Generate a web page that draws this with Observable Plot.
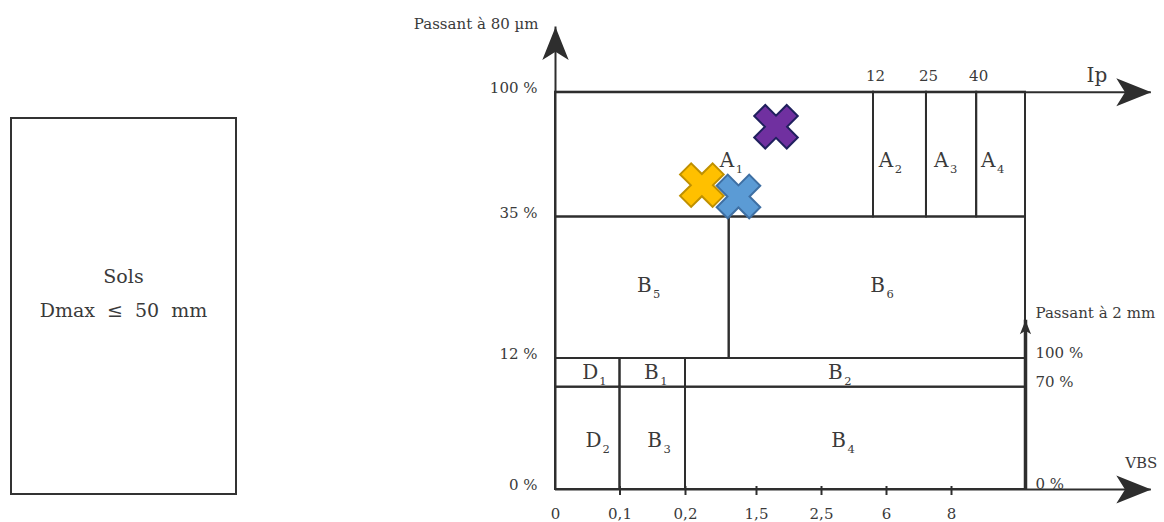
<!DOCTYPE html>
<html>
<head>
<meta charset="utf-8">
<script src="https://cdn.jsdelivr.net/npm/d3@7"></script>
<script src="https://cdn.jsdelivr.net/npm/@observablehq/plot@0.6"></script>
<style>
  html, body { margin: 0; padding: 0; background: #fff; }
  #wrap { position: relative; width: 1164px; height: 522px; overflow: hidden;
          font-family: "DejaVu Serif", "Liberation Serif", serif; color: #3a3a3a; }
  #chart { position: absolute; left: 0; top: 0; }
  #sols { position: absolute; left: 10px; top: 117px; width: 223px; height: 374px;
          border: 2px solid #333; }
  #sols .l { position: absolute; left: 0; width: 100%; text-align: center;
             font-size: 19px; line-height: 20px; white-space: pre; word-spacing: 6px; }
</style>
</head>
<body>
<div id="wrap">
  <div id="chart"></div>
  <div id="sols"><div class="l" style="top:147px">Sols</div><div class="l" style="top:181px">Dmax ≤ 50 mm</div></div>
</div>
<script>
// ---------- Data ----------
// Abscissa : VBS (bottom axis)
const vbsBreaks      = [0, 0.1, 0.2, 1.5, 2.5, 6, 8, 10];
const vbsTickValues  = [0, 0.1, 0.2, 1.5, 2.5, 6, 8];
const vbsTickLabels  = ["0", "0,1", "0,2", "1,5", "2,5", "6", "8"];
const vbsFrameMax    = 10;     // right edge of the classification frame
const vbsArrowTip    = 13.4;   // end of the VBS / Ip axis arrows
// Top axis : Ip, positioned along the same abscissa
const ipTicks        = [12, 25, 40];
const ipOnVbsAxis    = [5.3, 7.23, 8.68];
// Ordinate : passant à 80 µm (%)
const p80Ticks       = [0, 12, 35, 100];
const p80TickLabels  = ["0 %", "12 %", "35 %", "100 %"];
const p80ArrowTip    = 134;
// Right axis : passant à 2 mm (%)
const p2mmTicks      = [0, 70, 100];
const p2mmTickLabels = ["0 %", "70 %", "100 %"];
const p2mmOnP80      = [0, 9.37, 12];
const p2mmArrowTip   = 18.2;
const b5b6Split      = 1.0;

// Classes GTR
const zoneLetters = ["A", "A", "A", "A", "B", "B", "D", "B", "B", "D", "B", "B"];
const zoneIndex   = ["1", "2", "3", "4", "5", "6", "1", "1", "2", "2", "3", "4"];
const zoneXFrom   = [0, ipOnVbsAxis[0], ipOnVbsAxis[1], ipOnVbsAxis[2], 0, b5b6Split, 0, 0.1, 0.2, 0, 0.1, 0.2];
const zoneXTo     = [ipOnVbsAxis[0], ipOnVbsAxis[1], ipOnVbsAxis[2], vbsFrameMax, b5b6Split, vbsFrameMax, 0.1, 0.2, vbsFrameMax, 0.1, 0.2, vbsFrameMax];
const zoneYFrom   = [35, 35, 35, 35, 12, 12, p2mmOnP80[1], p2mmOnP80[1], p2mmOnP80[1], 0, 0, 0];
const zoneYTo     = [100, 100, 100, 100, 35, 35, 12, 12, 12, p2mmOnP80[1], p2mmOnP80[1], p2mmOnP80[1]];
const zoneLabelX  = [0.96, 5.97, 7.68, 8.99, 0.137, 5.52, 0.054, 0.148, 3.25, 0.059, 0.153, 3.42];
const zoneLabelY  = [64.4, 64.4, 64.4, 64.4, 23.9, 23.9, 10.7, 10.7, 10.7, 4.5, 4.5, 4.5];

// Échantillons (croix)
const sampleVbs = [0.50, 1.17, 1.80];
const sampleP80 = [51.6, 45.7, 82.0];
const sampleFill   = ["#FFC000", "#5B9BD5", "#7030A0"];
const sampleStroke = ["#BF9000", "#3E6FA3", "#20205E"];

// ---------- Build tables ----------
const zones = zoneLetters.map((l, i) => ({
  letter: l, idx: zoneIndex[i],
  x1: zoneXFrom[i], x2: zoneXTo[i], y1: zoneYFrom[i], y2: zoneYTo[i],
  lx: zoneLabelX[i], ly: zoneLabelY[i]
}));
const samples = sampleVbs.map((v, i) => ({vbs: v, p80: sampleP80[i], fill: sampleFill[i], stroke: sampleStroke[i]}));

// ---------- Custom symbols ----------
const arrowUp = {draw(ctx, size) {
  const r = Math.sqrt(size / Math.PI);
  ctx.moveTo(0, 0); ctx.lineTo(0.4 * r, r); ctx.lineTo(0, 0.75 * r); ctx.lineTo(-0.4 * r, r); ctx.closePath();
}};
const arrowRight = {draw(ctx, size) {
  const r = Math.sqrt(size / Math.PI);
  ctx.moveTo(0, 0); ctx.lineTo(-r, 0.4 * r); ctx.lineTo(-0.75 * r, 0); ctx.lineTo(-r, -0.4 * r); ctx.closePath();
}};
const cross = {draw(ctx, size) {
  const L = Math.sqrt(size / Math.PI), w = 0.34 * L;
  const pts = [[-w,-L],[w,-L],[w,-w],[L,-w],[L,w],[w,w],[w,L],[-w,L],[-w,w],[-L,w],[-L,-w],[-w,-w]];
  const c = Math.SQRT1_2;
  pts.forEach(([x, y], k) => {
    const X = x * c - y * c, Y = x * c + y * c;
    k ? ctx.lineTo(X, Y) : ctx.moveTo(X, Y);
  });
  ctx.closePath();
}};

const ink = "#2e2e2e", txt = "#3a3a3a";
const font = "DejaVu Serif";

const chart = Plot.plot({
  width: 1164,
  height: 522,
  margin: 0,
  style: {background: "#fff", fontFamily: font, overflow: "visible"},
  x: {type: "linear", domain: vbsBreaks, range: [555, 619.5, 685, 756, 821, 886, 951, 1025], axis: null},
  y: {type: "linear", domain: p80Ticks, range: [489, 358, 216.5, 91.7], axis: null},
  color: {type: "identity"},
  marks: [
    // classification frame
    Plot.rect(zones, {x1: "x1", x2: "x2", y1: "y1", y2: "y2", fill: "none", stroke: ink, strokeWidth: 2}),
    // axes
    Plot.ruleX([0], {y1: 0, y2: p80ArrowTip, stroke: ink, strokeWidth: 2}),
    Plot.ruleY([0, 100], {x1: 0, x2: vbsArrowTip, stroke: ink, strokeWidth: 2}),
    Plot.ruleX([vbsFrameMax], {y1: 0, y2: p2mmArrowTip, stroke: ink, strokeWidth: 3.5}),
    Plot.ruleX(vbsTickValues.slice(1), {y1: 0, y2: 0, insetTop: -3, insetBottom: -6, stroke: ink, strokeWidth: 2}),
    // arrow heads
    Plot.dot([0], {x: 0, y: p80ArrowTip, symbol: arrowUp, r: 33, fill: ink, stroke: "none"}),
    Plot.dot([0], {x: vbsFrameMax, y: p2mmArrowTip, symbol: arrowUp, r: 14, fill: ink, stroke: "none"}),
    Plot.dot([100, 0], {x: vbsArrowTip, y: d => d, symbol: arrowRight, r: 35, fill: ink, stroke: "none"}),
    // tick labels
    Plot.text(p80Ticks, {x: 0, y: d => d, text: (d, i) => p80TickLabels[i], textAnchor: "end", dx: -18, dy: -4, fontSize: 15, fill: txt}),
    Plot.text(vbsTickValues, {x: d => d, y: 0, text: (d, i) => vbsTickLabels[i], dy: 25, fontSize: 15, fill: txt}),
    Plot.text(ipTicks, {x: (d, i) => ipOnVbsAxis[i], y: 100, text: d => String(d), dx: 2, dy: -16, fontSize: 15, fill: txt}),
    Plot.text(p2mmTicks, {x: vbsFrameMax, y: (d, i) => p2mmOnP80[i], text: (d, i) => p2mmTickLabels[i], textAnchor: "start", dx: 10, dy: -5, fontSize: 15, fill: txt}),
    // axis titles
    Plot.text(["Passant à 80 µm"], {x: 0, y: p80ArrowTip, text: d => d, textAnchor: "end", dx: -17, dy: -3, fontSize: 15, fill: txt}),
    Plot.text(["Passant à 2 mm"], {x: vbsFrameMax, y: p2mmArrowTip, text: d => d, textAnchor: "start", dx: 10, dy: -7, fontSize: 15, fill: txt}),
    Plot.text(["Ip"], {x: vbsArrowTip, y: 100, text: d => d, textAnchor: "end", dx: -44, dy: -17, fontSize: 20, fill: txt}),
    Plot.text(["VBS"], {x: vbsArrowTip, y: 0, text: d => d, textAnchor: "end", dx: 6, dy: -26, fontSize: 15, fill: txt}),
    // zone labels
    Plot.text(zones, {x: "lx", y: "ly", text: "letter", fontSize: 20, fill: txt}),
    Plot.text(zones, {x: "lx", y: "ly", text: "idx", dx: 12.5, dy: 9, fontSize: 11.5, fill: txt}),
    // samples
    Plot.dot(samples, {x: "vbs", y: "p80", symbol: cross, r: 23, fill: "fill", stroke: "stroke", strokeWidth: 2})
  ]
});
document.getElementById("chart").appendChild(chart);
</script>
</body>
</html>
